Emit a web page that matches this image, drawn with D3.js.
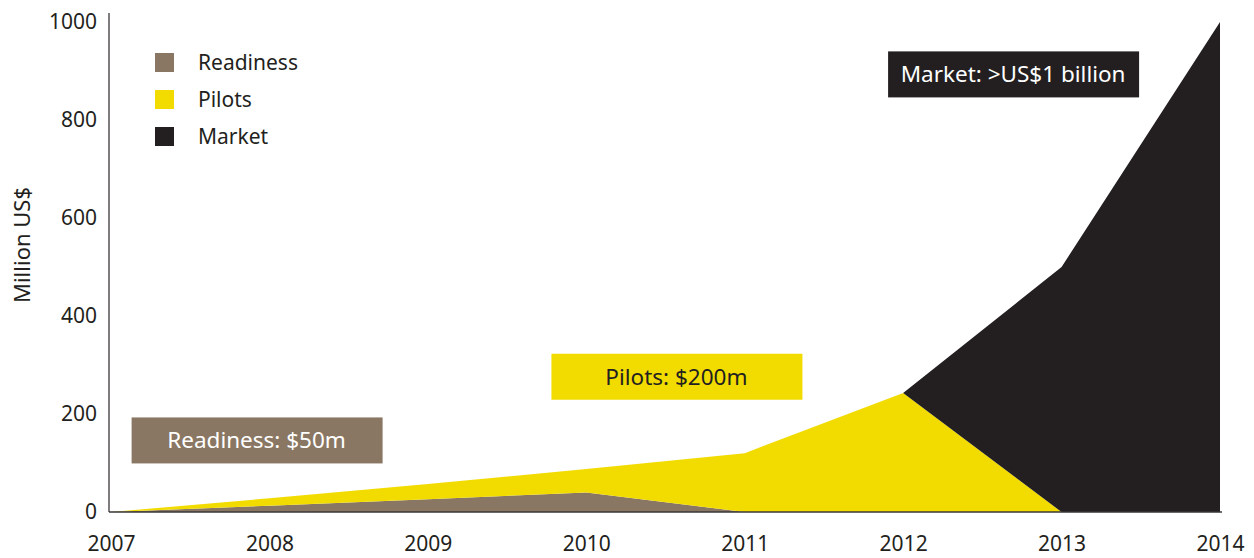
<!DOCTYPE html>
<html>
<head>
<meta charset="utf-8">
<script src="https://cdn.jsdelivr.net/npm/d3@7"></script>
<style>
  body { margin: 0; background: #fff; }
  svg text { font-family: "Noto Sans", sans-serif; fill: #231f20; }
</style>
</head>
<body>
<svg width="1254" height="558"></svg>
<script>
// data (million US$)
var years = [2007, 2008, 2009, 2010, 2011, 2012, 2013, 2014];
var readiness = [0, 13, 26, 40, 0, 0, 0, 0];
var pilots = [0, 15, 31, 48, 120, 243, 0, 0];
var market = [0, 0, 0, 0, 0, 0, 500, 1000];
var yTicks = [0, 200, 400, 600, 800, 1000];
var series = ["Readiness", "Pilots", "Market"];
var colors = ["#8a7763", "#f2dc00", "#231f20"];
var notes = ["Readiness: $50m", "Pilots: $200m", "Market: >US$1 billion"];
var noteText = ["#ffffff", "#231f20", "#ffffff"];

var svg = d3.select("svg");

var x = d3.scaleLinear().domain([2007, 2014]).range([111, 1220]);
var y = d3.scaleLinear().domain([0, 1000]).range([512, 22]);

var rows = years.map(function(yr, i) {
  return { year: yr, Readiness: readiness[i], Pilots: pilots[i], Market: market[i] };
});
var stacked = d3.stack().keys(series)(rows);

var area = d3.area()
  .x(function(d) { return x(d.data.year); })
  .y0(function(d) { return y(d[0]); })
  .y1(function(d) { return y(d[1]); });

svg.append("g").selectAll("path")
  .data(stacked)
  .join("path")
  .attr("d", area)
  .attr("fill", function(d, i) { return colors[i]; });

// axes
var yAxis = d3.axisLeft(y).tickValues(yTicks).tickFormat(d3.format("d")).tickSize(0).tickPadding(12);
var gy = svg.append("g").attr("transform", "translate(109,0)").call(yAxis);
gy.select(".domain").remove();
gy.selectAll("text").attr("font-size", 21).style("font-family", "Noto Sans").attr("fill", "#231f20");
svg.append("line").attr("x1", 109).attr("x2", 109).attr("y1", 13).attr("y2", 512)
  .attr("stroke", "#3a3637").attr("stroke-width", 1.3);

var xAxis = d3.axisBottom(x).tickValues(years).tickFormat(d3.format("d")).tickSize(0).tickPadding(24);
var gx = svg.append("g").attr("transform", "translate(0,512)").call(xAxis);
gx.select(".domain").remove();
gx.selectAll("text").attr("font-size", 21).style("font-family", "Noto Sans").attr("fill", "#231f20");
svg.append("line").attr("x1", 109).attr("x2", 1222).attr("y1", 512).attr("y2", 512)
  .attr("stroke", "#3a3637").attr("stroke-width", 1.3);

svg.append("text")
  .attr("transform", "translate(30,245) rotate(-90)")
  .attr("text-anchor", "middle")
  .attr("font-size", 22)
  .text("Million US$");

// legend
var legend = svg.append("g").attr("transform", "translate(155,53)");
series.forEach(function(s, i) {
  legend.append("rect").attr("x", 0).attr("y", i * 37).attr("width", 19).attr("height", 19)
    .attr("fill", colors[i]);
  legend.append("text").attr("x", 43).attr("y", i * 37 + 17).attr("font-size", 21).text(s);
});

// annotation boxes
var boxes = [
  { x0: 2007.13, v: 193 },
  { x0: 2009.78, v: 323 },
  { x0: 2011.905, v: 940 }
];
boxes.forEach(function(b, i) {
  var bx = x(b.x0), by = y(b.v);
  svg.append("rect").attr("x", bx).attr("y", by).attr("width", 251).attr("height", 46)
    .attr("fill", colors[i]);
  svg.append("text").attr("x", bx + 125).attr("y", by + 31)
    .attr("text-anchor", "middle").attr("font-size", 22.5)
    .style("fill", noteText[i]).text(notes[i]);
});
</script>
</body>
</html>
